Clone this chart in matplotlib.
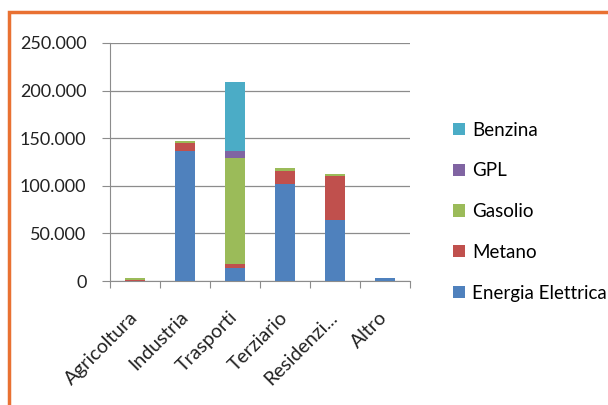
import numpy as np
import matplotlib.pyplot as plt
from matplotlib.patches import Rectangle
from matplotlib.ticker import FuncFormatter

categories = ['Agricoltura', 'Industria', 'Trasporti', 'Terziario', 'Residenzi...', 'Altro']
energia = [500, 136500, 14000, 101500, 64000, 3000]
metano = [1000, 8000, 3500, 14500, 46000, 0]
gasolio = [1500, 2500, 111500, 2400, 2500, 0]
gpl = [0, 0, 8000, 0, 0, 0]
benzina = [0, 0, 72000, 0, 0, 0]

series = [('Energia Elettrica', energia, '#4F81BD'),
          ('Metano', metano, '#C0504D'),
          ('Gasolio', gasolio, '#9BBB59'),
          ('GPL', gpl, '#8064A2'),
          ('Benzina', benzina, '#4BACC6')]

plt.rcParams['font.family'] = ['Lato', 'DejaVu Sans']

fig = plt.figure(figsize=(6.08, 4.05), dpi=100)
ax = fig.add_axes([0.181, 0.306, 0.493, 0.588])

x = np.arange(len(categories))
bottom = np.zeros(len(categories))
handles = []
for name, vals, col in series:
    b = ax.bar(x, vals, 0.4, bottom=bottom, color=col, label=name, zorder=3)
    bottom += np.array(vals)
    handles.append(b)

ax.set_xlim(-0.5, len(categories) - 0.5)
ax.set_ylim(0, 250000)
ax.set_yticks(np.arange(0, 250001, 50000))
ax.yaxis.set_major_formatter(FuncFormatter(lambda v, p: f'{int(v):,}'.replace(',', '.')))
ax.grid(axis='y', color='#8c8c8c', linewidth=0.9, zorder=0)
for s in ['top', 'right']:
    ax.spines[s].set_visible(False)
for s in ['left', 'bottom']:
    ax.spines[s].set_color('#8c8c8c')
ax.set_xticks(np.arange(-0.5, len(categories), 1.0))
ax.set_xticklabels([])
ax.set_xticks(x, minor=True)
ax.set_xticklabels(categories, minor=True, rotation=45, ha='right', va='center',
                   rotation_mode='anchor', fontsize=14, color='#222222')
ax.tick_params(axis='x', which='minor', length=0, pad=24)
ax.tick_params(axis='x', which='major', length=5, color='#8c8c8c')
ax.tick_params(axis='y', length=6, color='#8c8c8c', labelsize=13, pad=11,
               labelcolor='#222222')

ax.legend(handles[::-1], [s[0] for s in series][::-1], loc='upper left',
          bbox_to_anchor=(0.745, 0.70), bbox_transform=fig.transFigure,
          frameon=False, fontsize=13.5, borderpad=0, borderaxespad=0,
          handlelength=0.62, handleheight=0.62, handletextpad=0.4, labelspacing=1.27)

fig.patches.append(Rectangle((9 / 608, -0.1), 1.2, (405 - 12) / 405 + 0.1,
                             transform=fig.transFigure, fill=False,
                             edgecolor='#E97132', linewidth=2.5))

fig.savefig('out.png', dpi=100)
